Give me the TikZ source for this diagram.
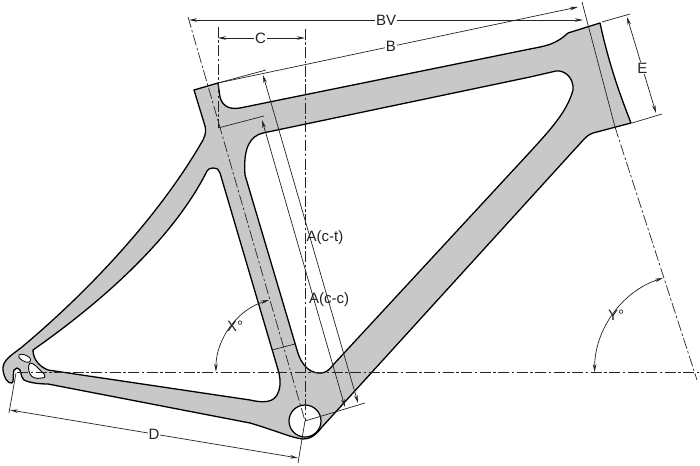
\documentclass[tikz,border=0pt]{standalone}
\usepackage{fontspec}
\setmainfont{Liberation Sans}
\usetikzlibrary{arrows.meta}
\definecolor{framegray}{RGB}{200,200,200}
\definecolor{inkgray}{RGB}{35,35,35}
\tikzset{
    frameline/.style={draw=black,line width=1.3pt,line join=round},
    dimline/.style={draw=inkgray,line width=0.7pt},
    axisline/.style={draw=inkgray,line width=0.7pt,dash pattern=on 11pt off 2.5pt on 2.5pt off 2.5pt},
    dimlabel/.style={fill=white,inner sep=1pt,text=inkgray},
    anglelabel/.style={inner sep=0pt,text=inkgray},
}
\begin{document}
\begin{tikzpicture}[x=1pt,y=-1pt,font=\fontsize{15}{17}\selectfont,
            >={Stealth[length=8pt,width=3.5pt]},
        ]
        \useasboundingbox (0,0) rectangle (700,465);
        % frame outline
        \fill[white] (0,0) rectangle (700,465);
        \draw[frameline,fill=framegray] (194,90) -- (218,83) -- (220,97) .. controls (222,105) and (228,110) .. (240,108)
            -- (530,49) .. controls (545,46) and (555,45) .. (568,33) -- (600,23)
            .. controls (608,60) and (618,90) .. (631,123) -- (593,133) .. controls (586,135) and (583,141) .. (575,149)
            -- (322,427) .. controls (315,436) and (310,439) .. (303,439) .. controls (292,438) and (280,432) .. (250,423)
            -- (48,384) .. controls (40,384) and (30,383) .. (24,380) .. controls (20,377) and (22,368) .. (17,368)
            .. controls (11,368) and (15,380) .. (12,383) .. controls (8,384) and (4,378) .. (3,370)
            .. controls (2,360) and (12,355) .. (22,347) .. controls (90,290) and (160,215) .. (203,140)
            .. controls (206,134) and (206,130) .. (205,126) -- cycle;
        % rear triangle
        \draw[frameline,fill=white] (213,168) .. controls (210,168) and (208,169) .. (207,171)
            .. controls (170,245) and (90,310) .. (33,350)
            .. controls (33,358) and (38,366) .. (48,370) -- (250,400) .. controls (268,404) and (278,402) .. (280,385)
            .. controls (280,380) and (280,377) .. (279,373) -- (220,173) .. controls (218,169) and (216,167) .. (213,168) -- cycle;
        % main triangle
        \draw[frameline,fill=white] (530,77) -- (263,133) .. controls (250,136) and (243,148) .. (245,175)
            -- (297,350) .. controls (302,368) and (312,374) .. (322,373) .. controls (327,372) and (330,369) .. (333,365)
            -- (530,152) .. controls (550,130) and (567,112) .. (573,90) .. controls (574,78) and (565,70) .. (556,71) -- cycle;
        % dropout holes
        \draw[frameline,fill=white,line width=0.8pt] (19,355) .. controls (21,353) and (27,355) .. (30,358)
            .. controls (32,361) and (29,363) .. (26,362) .. controls (23,361) and (17,358) .. (19,355) -- cycle;
        \draw[frameline,fill=white,line width=0.9pt] (30,363) .. controls (34,363) and (38,368) .. (42,372)
            .. controls (46,375) and (46,378) .. (42,378) .. controls (36,379) and (32,378) .. (30,374)
            .. controls (28,370) and (28,365) .. (30,363) -- cycle;
        % bottom bracket
        \node[circle,draw=black,line width=1.2pt,fill=white,minimum size=32pt,inner sep=0pt] (bbshell) at (305,421) {};
        % axes
        \coordinate (steerT) at (188,17);
        \coordinate (bbC) at (305,421);
        \coordinate (seatS) at (615,127);
        \coordinate (seatT) at (582,2);
        \coordinate (seatE) at (697,380);
        \draw[axisline] (steerT) -- (bbC);
        \draw[axisline] (17,372) -- (700,372);
        \draw[axisline] (218,27) -- (218,128);
        \draw[axisline] (305,29) -- (bbC);
        \draw[dimline] (seatT) -- (seatS);
        \draw[axisline] (seatS) -- (seatE);
        % ticks
        \draw[dimline] (272,350) -- (295,344);
        \draw[dimline] (218,83) -- (266,70);
        \draw[dimline] (218,128) -- (264,116);
        \draw[dimline] (bbC) -- (365,403);
        \draw[dimline] (602,22) -- (630,14);
        \draw[dimline] (632,123) -- (662,114);
        \draw[dimline] (16,373) -- (9,413);
        \draw[dimline] (bbC) -- (298,463);
        % dimensions
        \coordinate (bvL) at (189,20);
        \coordinate (bvR) at (583,20);
        \coordinate (bL) at (218,83);
        \coordinate (bR) at (578,7);
        \coordinate (cL) at (218,38);
        \coordinate (cR) at (305,38);
        \coordinate (eT) at (627,17);
        \coordinate (eB) at (656,113);
        \coordinate (dL) at (10,410);
        \coordinate (dR) at (298,458);
        \draw[dimline,<->] (bvL) -- node[dimlabel] (bvtext) {BV} (bvR);
        \draw[dimline,->] (bL) -- node[dimlabel,pos=0.48] (btext) {B} (bR);
        \draw[dimline,<->] (cL) -- node[dimlabel,pos=0.49] (ctext) {C} (cR);
        \draw[dimline,<->] (eT) -- node[dimlabel,pos=0.53] (etext) {E} (eB);
        \draw[dimline,<->] (dL) -- node[dimlabel,pos=0.5] (dtext) {D} (dR);
        \coordinate (ctT) at (263,75);
        \coordinate (ctB) at (358,403);
        \coordinate (ccT) at (262,120);
        \coordinate (ccB) at (345,407);
        \draw[dimline,<->] (ctT) -- (ctB);
        \draw[dimline,<->] (ccT) -- (ccB);
        \node[anglelabel] (cttext) at (325,238) {A(c-t)};
        \node[anglelabel] (cctext) at (329,300) {A(c-c)};
        % angles
        \draw[dimline,<->] (269,300) arc[start angle=107,end angle=180,radius=75pt];
        \draw[dimline,<->] (663,278) arc[start angle=108,end angle=180,radius=99pt];
        \node[anglelabel] (xtext) at (235,326) {X°};
        \node[anglelabel] (ytext) at (616,315) {Y°};
    \end{tikzpicture}
\end{document}
